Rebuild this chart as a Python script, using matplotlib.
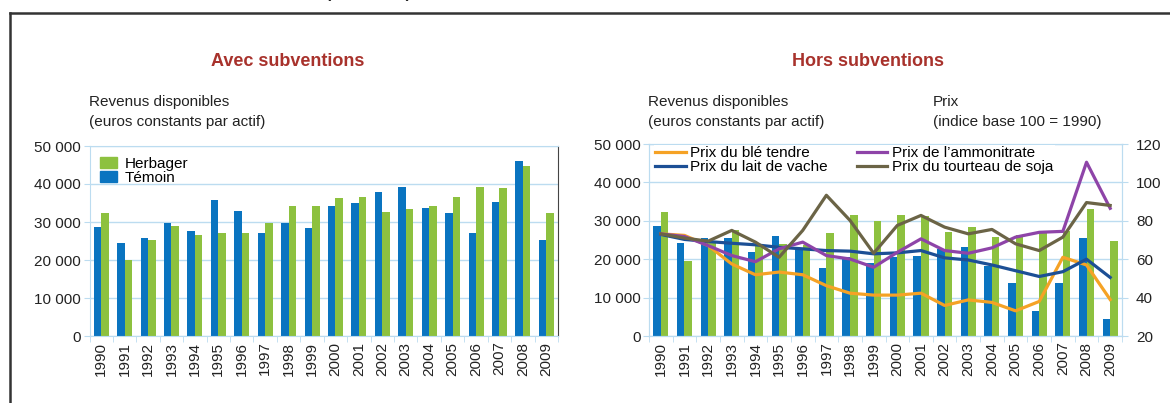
import matplotlib
matplotlib.use('Agg')
import matplotlib.pyplot as plt
from matplotlib.patches import Patch
from matplotlib.lines import Line2D
from matplotlib.ticker import FuncFormatter, FixedLocator
import numpy as np

plt.rcParams['font.family'] = ['Liberation Sans', 'DejaVu Sans']

# données
annees = [str(a) for a in range(1990, 2010)]

# Avec subventions (euros constants par actif)
avec_herbager = [32300, 20100, 25200, 28900, 26500, 27100, 27100, 29700, 34200, 34200,
                 36400, 36700, 32600, 33500, 34200, 36700, 39200, 39000, 44800, 32300]
avec_temoin = [28800, 24500, 25800, 29700, 27700, 35800, 32900, 27100, 29700, 28400,
               34200, 35100, 37800, 39300, 33800, 32300, 27100, 35200, 46100, 25300]

# Hors subventions
hors_herbager = [32300, 19600, 24500, 27700, 23600, 24000, 23600, 26700, 31500, 30000,
                 31500, 31200, 27100, 28400, 25700, 26400, 27100, 27400, 33200, 24700]
hors_temoin = [28600, 24200, 25500, 25500, 21800, 26100, 22700, 17700, 20500, 18900,
               20700, 20900, 22700, 23300, 18100, 13800, 6400, 13900, 25500, 4400]

# Prix (indice base 100 = 1990)
prix_ble = [73.2, 72.4, 67.1, 57.5, 51.9, 53.3, 51.9, 46.2, 42.3, 41.3,
            41.3, 42.3, 35.9, 38.8, 37.5, 33.1, 38.0, 61.0, 57.0, 39.0]
prix_lait = [72.9, 70.3, 69.2, 68.3, 67.5, 66.2, 65.4, 64.5, 64.2, 62.8,
             63.3, 64.5, 60.7, 59.6, 57.0, 54.0, 51.0, 53.5, 60.0, 50.5]
prix_ammo = [73.2, 71.8, 67.1, 61.9, 58.7, 65.4, 68.9, 61.9, 60.1, 55.8,
             63.6, 70.6, 64.5, 63.1, 65.9, 71.5, 74.0, 74.5, 110.5, 86.5]
prix_soja = [73.2, 71.0, 69.4, 75.0, 68.9, 61.0, 75.0, 93.3, 80.2, 63.1,
             77.6, 82.8, 76.7, 73.2, 75.5, 68.0, 64.5, 71.5, 89.5, 88.0]

VERT = '#8dc13f'
BLEU = '#0a74c0'
GRILLE = '#bcdcf0'
ROUGE = '#a8322c'
TXT = '#222222'

W, H = 1170, 403
fig = plt.figure(figsize=(W / 100, H / 100), dpi=100)


def px_axes(x0, x1, ytop, ybot):
    return fig.add_axes([x0 / W, 1 - ybot / H, (x1 - x0) / W, (ybot - ytop) / H])


fmt_milliers = FuncFormatter(lambda v, p: f"{int(v):,}".replace(',', ' '))
x = np.arange(len(annees))
lb = 0.32


def style_axe(ax):
    ax.set_xlim(-0.5, len(annees) - 0.5)
    ax.set_ylim(0, 50000)
    ax.set_yticks(range(0, 50001, 10000))
    ax.yaxis.set_major_formatter(fmt_milliers)
    ax.grid(axis='y', color=GRILLE, linewidth=1)
    ax.set_axisbelow(True)
    ax.set_xticks(x)
    ax.set_xticklabels(annees, rotation=90)
    ax.xaxis.set_minor_locator(FixedLocator(np.arange(-0.5, len(annees), 1)))
    ax.tick_params(axis='x', which='major', length=0, pad=4, labelsize=11, labelcolor=TXT)
    ax.tick_params(axis='x', which='minor', length=4, color=GRILLE)
    ax.tick_params(axis='y', length=4, color=GRILLE, labelsize=11, labelcolor=TXT, pad=2)
    for s in ['left', 'bottom', 'top']:
        ax.spines[s].set_color(GRILLE)


# --- Avec subventions
ax1 = px_axes(89.5, 558, 146, 336)
ax1.bar(x - lb / 2, avec_temoin, lb, color=BLEU, label='Témoin')
ax1.bar(x + lb / 2, avec_herbager, lb, color=VERT, label='Herbager')
style_axe(ax1)
ax1.spines['right'].set_color('#444444')
h1 = [Patch(color=VERT), Patch(color=BLEU)]
ax1.legend(h1, ['Herbager', 'Témoin'], loc='upper left', bbox_to_anchor=(0.0, 1.0),
           frameon=False, fontsize=11, handlelength=1.1, handleheight=0.75,
           handletextpad=0.5, labelspacing=0.0, borderaxespad=0.3)

# --- Hors subventions
ax2 = px_axes(649, 1122, 144, 336)
ax2.bar(x - lb / 2, hors_temoin, lb, color=BLEU)
ax2.bar(x + lb / 2, hors_herbager, lb, color=VERT)
style_axe(ax2)
ax2.spines['right'].set_color(GRILLE)

ax3 = ax2.twinx()
ax3.set_ylim(20, 120)
ax3.set_yticks(range(20, 121, 20))
ax3.tick_params(axis='y', length=4, color=GRILLE, labelsize=11, labelcolor=TXT, pad=6)
for s in ['left', 'bottom', 'top', 'right']:
    ax3.spines[s].set_color(GRILLE)
lw = 2.3
l_ble, = ax3.plot(x, prix_ble, color='#f5a225', lw=lw, solid_joinstyle='round')
l_lait, = ax3.plot(x, prix_lait, color='#1c4f95', lw=lw, solid_joinstyle='round')
l_ammo, = ax3.plot(x, prix_ammo, color='#8e44a8', lw=lw, solid_joinstyle='round')
l_soja, = ax3.plot(x, prix_soja, color='#6b6446', lw=lw, solid_joinstyle='round')
leg = ax3.legend([l_ble, l_lait, l_ammo, l_soja],
                 ['Prix du blé tendre', 'Prix du lait de vache',
                  'Prix de l\u2019ammonitrate', 'Prix du tourteau de soja'],
                 ncol=2, loc='upper left', bbox_to_anchor=(0.0, 1.02), fontsize=11,
                 frameon=True, fancybox=False, framealpha=1.0, edgecolor='none',
                 handlelength=2.0, handletextpad=0.3, labelspacing=0.0,
                 columnspacing=1.9, borderpad=0.1, borderaxespad=0.3)
leg.get_frame().set_facecolor('white')

# --- textes
fig.text(288 / W, 1 - 62 / H, 'Avec subventions', color=ROUGE, fontsize=13,
         fontweight='bold', ha='center', va='center')
fig.text(868 / W, 1 - 62 / H, 'Hors subventions', color=ROUGE, fontsize=13,
         fontweight='bold', ha='center', va='center')
for x0 in (89 / W, 648 / W):
    fig.text(x0, 1 - 102 / H, 'Revenus disponibles', fontsize=11, color=TXT, va='center')
    fig.text(x0, 1 - 122 / H, '(euros constants par actif)', fontsize=11, color=TXT, va='center')
fig.text(933 / W, 1 - 102 / H, 'Prix', fontsize=11, color=TXT, va='center')
fig.text(933 / W, 1 - 122 / H, '(indice base 100 = 1990)', fontsize=11, color=TXT, va='center')

# titre rogné en haut de la page
fig.text(368 / W, 1 + 2 / H, '(1990-2009)', fontsize=11.3, fontweight='bold',
         color=TXT, ha='center', va='baseline')

# cadre
fig.add_artist(Line2D([10 / W, 1.0], [1 - 13 / H, 1 - 13 / H], color='#333333', lw=1.8))
fig.add_artist(Line2D([10 / W, 10 / W], [0, 1 - 13 / H], color='#333333', lw=1.8))

fig.savefig('out.png', dpi=100)
